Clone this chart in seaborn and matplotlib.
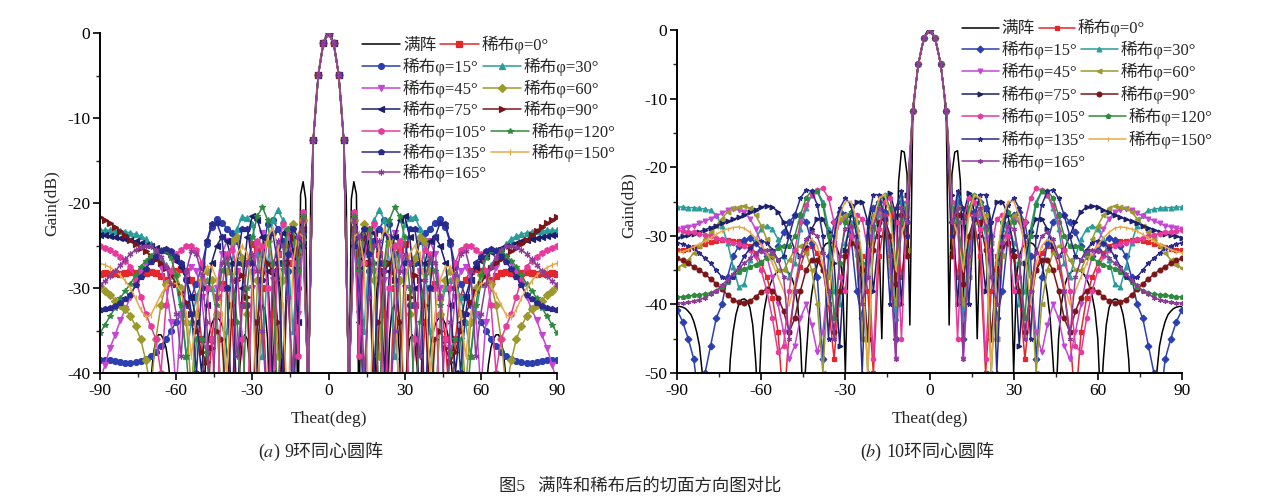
import numpy as np
import matplotlib
matplotlib.use("Agg")
import matplotlib.pyplot as plt
from matplotlib.ticker import MultipleLocator
import seaborn as sns

# ---------------------------------------------------------------------------
# Data: principal-plane cuts, stored for theta >= 0 (the cuts are symmetric)
# ---------------------------------------------------------------------------
THETA_FULL = np.arange(0, 91, 1)     # full-array curves, 1 deg step
THETA_THIN = np.arange(0, 91, 2)     # thinned-array curves, 2 deg step

LABEL_FULL = "满阵"
PHI_LABELS = ["稀布φ=0°", "稀布φ=15°", "稀布φ=30°", "稀布φ=45°", "稀布φ=60°",
              "稀布φ=75°", "稀布φ=90°", "稀布φ=105°", "稀布φ=120°",
              "稀布φ=135°", "稀布φ=150°", "稀布φ=165°"]

# (a) 9-ring concentric array
A_FULL = [0, -0.3, -1.2, -2.7, -4.9, -8, -12.5, -19.5, -46, -19.5,
          -17.5, -19, -46, -26, -23, -22.8, -25, -34, -46, -30,
          -27.5, -27.8, -31, -46, -36, -32.5, -32, -33.5, -38, -46,
          -47, -39, -36, -35.5, -36.5, -39.5, -45, -48, -46, -41,
          -37.5, -35.5, -34.3, -33.7, -33.5, -33.6, -34.2, -35.5, -37.5, -41,
          -45, -48, -50, -47, -44, -43, -44, -47, -50, -48,
          -46, -44, -42, -39, -37, -36, -35.5, -35.5, -36.2, -37.8,
          -41, -45, -49, -51, -48, -46, -45, -46, -49, -52,
          -50, -47, -45.5, -45, -46, -48, -51, -50, -48, -47,
          -46]
A_PHI0 = [0, -1.2, -4.9, -12.6, -42, -22, -27, -45, -27, -24.5,
          -26, -33, -45, -30, -25.5, -24.8, -27, -32, -45, -34,
          -30, -29.5, -31, -36, -45, -36, -31, -29, -28, -27.8,
          -28, -28.5, -29, -28.6, -28.2, -28.1, -28.2, -28.3, -28.2, -28.1,
          -28.2, -28.3, -28.2, -28.3, -28.2, -28.3]
A_PHI15 = [0, -1.2, -4.9, -12.6, -42, -23.5, -30, -45, -28, -24.5,
           -23, -22, -22.5, -26, -34, -45, -32, -27, -24.5, -23.5,
           -23, -22.3, -21.9, -22.8, -24.8, -27.5, -29.5, -31, -32, -33,
           -34, -35, -36, -36.8, -37.5, -38, -38.4, -38.6, -38.7, -38.8,
           -38.8, -38.7, -38.6, -38.5, -38.5, -38.5]
A_PHI30 = [0, -1.2, -4.9, -12.6, -42, -24, -27, -35, -26, -22,
           -20.8, -22, -27, -38, -26, -22.5, -21.8, -21.6, -23, -27,
           -35, -45, -33, -30, -29, -29.5, -31, -34, -38, -33,
           -29.5, -28, -27.3, -26.5, -25.5, -24.8, -24.2, -23.9, -23.7, -23.5,
           -23.4, -23.3, -23.3, -23.2, -23.2, -23.2]
A_PHI45 = [0, -1.2, -4.9, -12.6, -42, -23, -33, -25, -24, -28,
           -45, -29, -24.5, -23.5, -25, -30, -45, -36, -28, -25,
           -24.5, -26, -30, -45, -37, -31, -28, -27.5, -29, -33,
           -42, -34, -30, -27.5, -26.5, -26.5, -27, -28, -29.5, -31,
           -32.5, -33.8, -35.5, -37, -39, -41]
A_PHI60 = [0, -1.2, -4.9, -12.6, -42, -22, -26, -22.5, -23.5, -29,
           -38, -27, -24.5, -25, -29, -45, -33, -26.5, -24, -24.5,
           -28, -45, -33, -29, -28, -29, -33, -42, -34, -30,
           -28.5, -28.5, -29.5, -32, -36, -42, -38.5, -36, -34.5, -33.3,
           -32.5, -32, -31.5, -30.8, -30.3, -29.8]
A_PHI75 = [0, -1.2, -4.9, -12.6, -42, -23, -34, -25.5, -23, -23.5,
           -27, -40, -28, -24, -22, -21.5, -24, -30, -45, -27,
           -24.5, -24, -25, -27, -32, -40, -34, -31, -29, -27.5,
           -26.8, -26.2, -25.8, -25.5, -25.3, -25.1, -24.9, -24.7, -24.5, -24.4,
           -24.2, -24.1, -24, -23.9, -23.8, -23.8]
A_PHI90 = [0, -1.2, -4.9, -12.6, -42, -23, -26, -24, -27, -45,
           -34, -28, -27, -29, -34, -45, -31, -28.5, -29, -32,
           -45, -36, -35, -37, -38.7, -37.5, -35, -33, -31.7, -30.5,
           -29.5, -28.5, -27.7, -27, -26.6, -26.2, -25.7, -25.3, -24.8, -24.3,
           -23.8, -23.3, -22.8, -22.4, -22, -21.6]
A_PHI105 = [0, -1.2, -4.9, -12.6, -42, -21, -38, -27, -23, -22.5,
            -26, -45, -30, -25, -24.5, -28, -45, -36, -28, -25.5,
            -26, -30, -45, -36, -30, -27, -25.5, -25, -25, -25.5,
            -26, -28, -32, -40, -36, -34.5, -33, -31, -29, -27.5,
            -26.8, -26.3, -25.9, -25.5, -25.3, -25.1]
A_PHI120 = [0, -1.2, -4.9, -12.6, -42, -21.5, -28, -23, -23, -27,
            -45, -27, -22, -20.5, -21.5, -24, -30, -45, -34, -28.5,
            -27, -28, -32, -45, -37.5, -36, -36, -45, -38, -32,
            -28.5, -26.5, -25.6, -25.5, -25.7, -26.2, -26.8, -27.5, -28.5, -29.5,
            -30.3, -31.2, -32.3, -33.3, -34.3, -35.3]
A_PHI135 = [0, -1.2, -4.9, -12.6, -42, -25, -24, -23, -26, -40,
            -27, -23.5, -24, -29, -45, -27, -23, -23, -27, -45,
            -30, -24, -22.3, -22.5, -24.5, -30, -40, -33, -29, -27,
            -26.3, -25.6, -25.4, -25.7, -26.2, -26.9, -27.8, -28.7, -29.7, -30.8,
            -31.3, -31.8, -32.1, -32.3, -32.5, -32.6]
A_PHI150 = [0, -1.2, -4.9, -12.6, -42, -24, -23.5, -27, -45, -32,
            -25, -23, -24, -28, -45, -30, -26, -25, -26, -30,
            -40, -33, -29, -27.5, -27.5, -29, -33, -38, -33, -30.5,
            -29.5, -29.4, -29.8, -30.8, -32, -33.2, -33.4, -32.5, -31.2, -30,
            -29.2, -28.5, -28, -27.6, -27.3, -27.1]
A_PHI165 = [0, -1.2, -4.9, -12.6, -42, -22, -24, -40, -31, -25,
            -24.5, -28, -45, -35, -28, -26, -27, -32, -38, -29,
            -26.5, -27, -31, -45, -34, -28.5, -26, -25.7, -28, -38,
            -33, -29.5, -27.5, -26.3, -25.5, -25.1, -25, -25.2, -25.5, -26,
            -26.6, -27.3, -28, -28.6, -29.2, -29.6]

# (b) 10-ring concentric array
B_FULL = [0, -0.3, -1.2, -2.8, -5.1, -8.3, -13.5, -43, -21, -17.8,
          -17.6, -22, -40, -27, -24.5, -24.3, -27, -45, -30, -26.8,
          -26, -26.5, -29, -38, -40, -31, -28.5, -28, -29, -33,
          -50, -36, -33, -31.8, -31.2, -31, -31, -31.2, -31.8, -32.8,
          -34.2, -36, -38.5, -42, -48, -55, -45, -40, -37.5, -36.2,
          -35.5, -35.1, -35, -35, -35.2, -35.6, -36.3, -37.3, -38.8, -41,
          -45, -55, -48, -43, -40.5, -39.5, -39.2, -39.3, -40, -41.5,
          -44, -48, -56, -54, -53, -53.5, -55, -58, -60, -58,
          -56, -50, -46, -44, -42.5, -41.5, -41, -40.6, -40.4, -40.3,
          -40.3]
B_PHI0 = [0, -1.2, -5.0, -11.8, -30, -36, -28, -26.5, -28, -33,
          -50, -38, -33, -31, -31, -33, -38, -48, -40, -35,
          -32.5, -31.5, -32, -34.5, -38, -44, -55, -44, -39, -36,
          -34, -32.5, -31.5, -31, -30.8, -30.7, -30.6, -30.6, -30.7, -30.9,
          -31.2, -31.5, -31.7, -31.9, -32, -32.1]
B_PHI15 = [0, -1.2, -5.0, -11.8, -28, -25, -45, -32, -26.5, -25,
           -26, -30, -42, -38, -30, -27, -26.5, -28, -33, -48,
           -36, -31, -28, -27, -27, -28, -29.5, -31.5, -33, -33,
           -32, -31, -30.3, -30.6, -31.5, -33, -36, -40, -42, -46,
           -50, -55, -48, -45, -42.5, -40.8]
B_PHI30 = [0, -1.2, -5.0, -11.8, -27, -24, -42, -31, -27, -27,
           -30, -45, -35, -29, -28, -31, -40, -38, -29, -25,
           -23.5, -24, -26, -29, -34, -36, -33, -30.5, -29, -28.5,
           -29, -30.5, -33.5, -37, -37.5, -34.5, -31, -28.5, -27, -26.3,
           -26.1, -26, -25.9, -25.9, -25.8, -25.8]
B_PHI45 = [0, -1.2, -5.0, -11.8, -30, -26, -48, -35, -28, -26.5,
           -28, -33, -45, -33, -29, -27.5, -28, -31, -36, -44,
           -47, -43, -40, -42, -46, -48, -44, -40, -36, -33,
           -31, -29, -27.5, -26.6, -26.2, -26.1, -26.3, -26.7, -27.1, -27.5,
           -27.8, -28.2, -28.5, -28.7, -28.9, -29]
B_PHI60 = [0, -1.2, -5.0, -11.8, -32, -26, -40, -36, -28, -26,
           -27, -31, -45, -33, -28.5, -27, -27.5, -30, -36, -50,
           -40, -35, -32.5, -31.5, -32, -33.5, -35, -35, -33, -30.5,
           -28.5, -27, -26, -25.6, -25.8, -26, -26.5, -27.5, -28.5, -29.5,
           -30.5, -31.5, -32.5, -33.5, -34.2, -34.7]
B_PHI75 = [0, -1.2, -5.0, -11.8, -24, -40, -27, -23.8, -24.5, -30,
           -38, -28, -25, -25, -27, -32, -46, -34, -29.5, -27.5,
           -27.5, -29, -31.5, -33, -32, -30, -28, -26.5, -25.8, -25.6,
           -25.8, -26.2, -26.6, -27, -27.3, -27.6, -27.9, -28.2, -28.5, -28.8,
           -29.1, -29.4, -29.7, -29.9, -30.1, -30.3]
B_PHI90 = [0, -1.2, -5.0, -11.8, -33, -27, -37, -30, -27.5, -28,
           -32, -45, -35, -31.5, -31, -33, -38, -44, -38, -35,
           -33.5, -33.5, -35, -38, -42, -44, -41, -39, -38, -37.8,
           -38.2, -38.9, -39.5, -39.8, -39.7, -39.3, -38.6, -37.8, -37, -36.3,
           -35.6, -35, -34.5, -34, -33.6, -33.3]
B_PHI105 = [0, -1.2, -5.0, -11.8, -25, -45, -28, -24.5, -25, -29,
            -48, -32, -27.5, -27, -30, -38, -36, -28, -24.5, -23.1,
            -23.3, -24, -25.5, -28, -32, -38, -46, -47, -42, -38,
            -35, -33, -32, -31.5, -31.2, -31, -30.8, -30.5, -30.3, -30.1,
            -29.9, -29.7, -29.5, -29.4, -29.3, -29.2]
B_PHI120 = [0, -1.2, -5.0, -11.8, -26, -28, -34, -26, -24, -25,
            -29, -50, -34, -28, -26.5, -28, -34, -42, -30, -25.5,
            -23.5, -23.4, -24.5, -27, -30, -31.5, -31.5, -31.8, -32.5, -33.2,
            -33.8, -34.2, -34.5, -34.8, -35.3, -36, -36.8, -37.5, -38, -38.3,
            -38.5, -38.6, -38.7, -38.8, -38.9, -38.9]
B_PHI135 = [0, -1.2, -5.0, -11.8, -30, -23.5, -26, -40, -27.5, -24,
            -24, -28, -50, -30, -25.5, -24.5, -26, -30, -45, -30,
            -25.5, -23.5, -23.3, -24.5, -27, -30, -33, -33.5, -32, -31,
            -30.7, -31, -31.8, -33, -34.5, -36, -36.5, -36, -35, -34,
            -33.3, -32.5, -31.8, -31.5, -31.2, -31]
B_PHI150 = [0, -1.2, -5.0, -11.8, -27, -30, -35, -27, -24, -24.5,
            -28, -50, -33, -27.5, -25, -25, -27, -32, -40, -34,
            -31.5, -30.5, -31, -33, -37, -40, -38, -36, -34, -32.5,
            -31.3, -30.3, -29.5, -28.9, -28.7, -28.8, -29, -29.3, -29.8, -30.3,
            -30.8, -31.2, -31.6, -32, -32.3, -32.5]
B_PHI165 = [0, -1.2, -5.0, -11.8, -28, -26, -48, -33, -27, -26,
            -28.5, -36, -40, -31, -28.5, -29, -33, -45, -38, -32.5,
            -30, -29.5, -30.5, -33, -38, -45, -36, -33.5, -32.3, -32,
            -32.2, -32.7, -33.3, -34, -34.7, -35.5, -36.4, -37.2, -38, -38.5,
            -39, -39.3, -39.5, -39.7, -39.8, -39.8]

A_THIN = [A_PHI0, A_PHI15, A_PHI30, A_PHI45, A_PHI60, A_PHI75, A_PHI90,
          A_PHI105, A_PHI120, A_PHI135, A_PHI150, A_PHI165]
B_THIN = [B_PHI0, B_PHI15, B_PHI30, B_PHI45, B_PHI60, B_PHI75, B_PHI90,
          B_PHI105, B_PHI120, B_PHI135, B_PHI150, B_PHI165]

# ---------------------------------------------------------------------------
# Styles
# ---------------------------------------------------------------------------
COLORS = ["#e5262b", "#2b3fb0", "#2a9d9a", "#c445d6", "#9c9a2e", "#1c1f6b",
          "#7b1518", "#e63a9c", "#2e8b3d", "#2a2a8e", "#e8a94a", "#8e3c98"]
ASTER = (6, 2, 0)
MARKERS_A = ["s", "o", "^", "v", "D", "<", ">", "h", "*", "p", "|", ASTER]
MARKERS_B = ["s", "D", "^", "v", "<", ">", "o", "h", "p", "*", "|", ASTER]

W, H = 1269, 496

sns.set_style("ticks")
plt.rcParams["font.family"] = ["Liberation Serif", "Noto Sans CJK SC", "DejaVu Sans"]
plt.rcParams["mathtext.fontset"] = "stix"
plt.rcParams["axes.unicode_minus"] = False


def mirror(theta, vals):
    theta = np.asarray(theta, dtype=float)
    vals = np.asarray(vals, dtype=float)
    return (np.concatenate([-theta[:0:-1], theta]),
            np.concatenate([vals[:0:-1], vals]))


def draw_panel(ax, full_vals, thin_vals, markers, ms, ymin):
    t, v = mirror(THETA_FULL, full_vals)
    sns.lineplot(x=t, y=v, ax=ax, color="black", linewidth=1.1,
                 estimator=None, sort=False, legend=False)
    handles = [ax.lines[-1]]
    for vals, color, mk in zip(thin_vals, COLORS, markers):
        t, v = mirror(THETA_THIN, vals)
        sns.lineplot(x=t, y=v, ax=ax, color=color, linewidth=1.1,
                     marker=mk, markersize=ms, markeredgecolor=color,
                     markerfacecolor=color, markeredgewidth=0.9,
                     estimator=None, sort=False, legend=False)
        handles.append(ax.lines[-1])

    ax.set_xlim(-90, 90)
    ax.set_ylim(ymin, 0)
    ax.xaxis.set_major_locator(MultipleLocator(30))
    ax.xaxis.set_minor_locator(MultipleLocator(15))
    ax.yaxis.set_major_locator(MultipleLocator(10))
    ax.yaxis.set_minor_locator(MultipleLocator(5))
    sns.despine(ax=ax)
    for side in ("left", "bottom"):
        ax.spines[side].set_linewidth(1.4)
        ax.spines[side].set_color("black")
    ax.tick_params(which="major", direction="out", length=5, width=1.2,
                   labelsize=12.5, colors="black", pad=2)
    ax.tick_params(which="minor", direction="out", length=3, width=1.0)
    ax.set_xlabel("Theat(deg)", fontsize=12.5)
    ax.set_ylabel("Gain(dB)", fontsize=12.5)
    ax.patch.set_alpha(0)
    return handles


def add_rows(fig, handles, x_px, rows_y_px, handlelength):
    labels = [LABEL_FULL] + PHI_LABELS
    groups = [[0, 1], [2, 3], [4, 5], [6, 7], [8, 9], [10, 11], [12]]
    for grp, y in zip(groups, rows_y_px):
        fig.legend([handles[i] for i in grp], [labels[i] for i in grp],
                   loc="center left", bbox_to_anchor=(x_px / W, 1 - y / H),
                   ncol=len(grp), frameon=False, fontsize=12,
                   handlelength=handlelength, handletextpad=0.15,
                   columnspacing=0.25, borderpad=0, borderaxespad=0,
                   numpoints=1)


def caption(fig, x_split_px, y_px, letter, text):
    # "(a)" with an italic letter, followed by the Chinese sub-caption
    fig.text((x_split_px - 2) / W, 1 - y_px / H, r"($\mathit{%s}$)" % letter,
             ha="right", va="center", fontsize=13)
    fig.text((x_split_px + 2) / W, 1 - y_px / H, text,
             ha="left", va="center", fontsize=13)


fig = plt.figure(figsize=(W / 100, H / 100), dpi=100)
fig.patch.set_facecolor("white")

ax_a = fig.add_axes([100 / W, 1 - 373 / H, 457 / W, 340 / H])
ax_b = fig.add_axes([677 / W, 1 - 373 / H, 505 / W, 343 / H])

h_a = draw_panel(ax_a, A_FULL, A_THIN, MARKERS_A, 4.2, -40)
h_b = draw_panel(ax_b, B_FULL, B_THIN, MARKERS_B, 3.4, -50)

ax_a.yaxis.set_label_coords(-0.088, 0.5)
ax_b.yaxis.set_label_coords(-0.080, 0.49)
ax_a.xaxis.set_label_coords(0.5, -0.112)
ax_b.xaxis.set_label_coords(0.5, -0.111)

add_rows(fig, h_a, 362, [45, 66.7, 89, 110, 131.7, 153, 173], 2.3)
add_rows(fig, h_b, 962, [28.3, 50, 71.7, 95, 116.7, 140, 161.7], 2.2)

caption(fig, 282, 452, "a", "9环同心圆阵")
caption(fig, 884, 452, "b", "10环同心圆阵")
fig.text(640 / W, 1 - 478 / H, "图5   满阵和稀布后的切面方向图对比",
         ha="center", va="top", fontsize=12.5)

fig.savefig("out.png", dpi=100, facecolor="white")
